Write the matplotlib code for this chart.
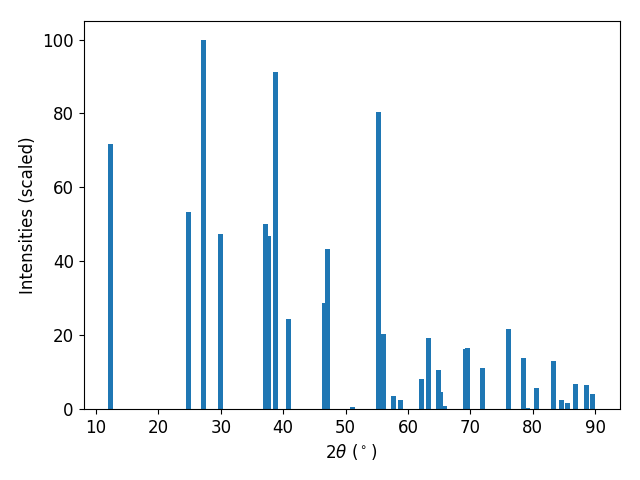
import matplotlib
matplotlib.use("Agg")
import matplotlib.pyplot as plt

# peak positions (2theta, degrees) and scaled intensities
two_theta = [12.3, 24.9, 27.3, 30.0, 37.2, 37.7, 38.8, 40.9, 46.65, 47.1,
             51.1, 55.3, 56.1, 57.7, 58.8, 62.2, 63.3, 64.9, 65.25, 65.9,
             69.25, 69.55, 72.0, 76.1, 78.5, 79.2, 80.6, 83.35, 84.6, 85.6,
             86.9, 88.6, 89.6]
intensity = [71.8, 53.2, 100.0, 47.4, 50.1, 46.9, 91.3, 24.4, 28.7, 43.4,
             0.6, 80.5, 20.3, 3.5, 2.4, 8.1, 19.2, 10.6, 4.6, 0.8,
             16.3, 16.5, 11.1, 21.7, 13.8, 0.3, 5.7, 13.0, 2.4, 1.6,
             6.8, 6.5, 4.1]

plt.rcParams['font.size'] = 12
fig, ax = plt.subplots(figsize=(6.4, 4.8), dpi=100)
ax.bar(two_theta, intensity, width=0.8)
ax.set_xlabel(r'$2\theta$ ($^\circ$)')
ax.set_ylabel('Intensities (scaled)')
fig.subplots_adjust(left=0.1305, right=0.968, top=0.956, bottom=0.148)
fig.savefig('out.png')
